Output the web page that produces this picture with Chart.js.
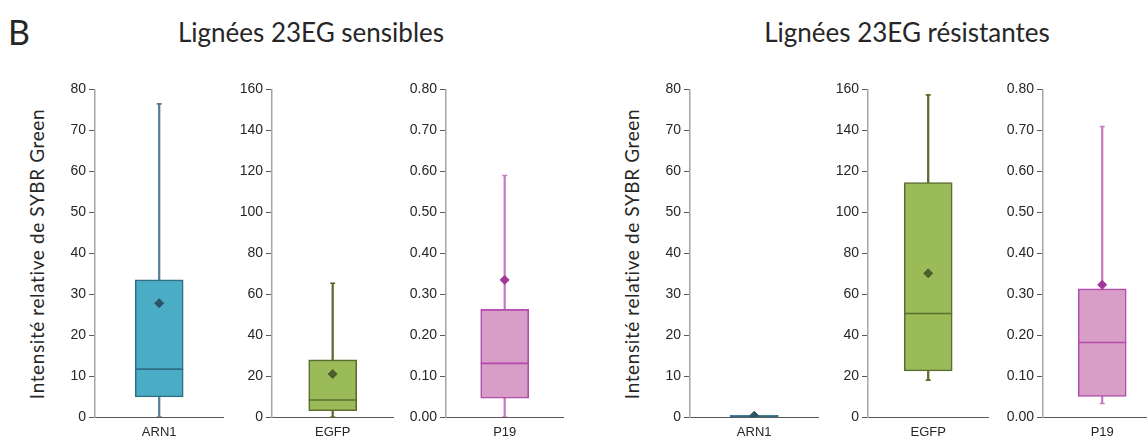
<!DOCTYPE html>
<html>
<head>
<meta charset="utf-8">
<script src="https://cdn.jsdelivr.net/npm/chart.js@4/dist/chart.umd.min.js"></script>
<style>
  html, body { margin: 0; padding: 0; background: #fff; }
  #wrap { position: relative; width: 1147px; height: 443px; overflow: hidden; background: #fff; }
  #wrap canvas { position: absolute; }
  .txt { position: absolute; color: #262626; font-family: Lato, "Open Sans", sans-serif; white-space: nowrap; }
  .title { font-size: 26px; line-height: 30px; width: 400px; text-align: center; top: 17px; }
  .ytitle { font-size: 19px; line-height: 24px; width: 340px; text-align: center; top: 242px; transform: rotate(-90deg); letter-spacing: 0.6px; }
</style>
</head>
<body>
<div id="wrap">
  <div class="txt" style="left:8px;top:10px;font-size:34px;line-height:44px;">B</div>
  <div class="txt title" style="left:111px;">Lignées 23EG sensibles</div>
  <div class="txt title" style="left:707px;">Lignées 23EG résistantes</div>
  <div class="txt ytitle" style="left:-133px;">Intensité relative de SYBR Green</div>
  <div class="txt ytitle" style="left:462px;">Intensité relative de SYBR Green</div>
</div>
<script>
const categories = ['ARN1', 'EGFP', 'P19'];

// Lignées sensibles: min, q1, median, q3, max, mean
const sensMin = [0, 0, 0];
const sensQ1 = [4.9, 3.1, 0.046];
const sensMedian = [11.7, 8.3, 0.131];
const sensQ3 = [33.5, 27.9, 0.263];
const sensMax = [76.5, 65.4, 0.590];
const sensMean = [27.8, 21.0, 0.335];

// Lignées résistantes
const resMin = [0.02, 18.0, 0.033];
const resQ1 = [0.05, 22.5, 0.050];
const resMedian = [0.15, 50.6, 0.182];
const resQ3 = [0.4, 114.6, 0.313];
const resMax = [0.5, 157.4, 0.710];
const resMean = [0.3, 70.2, 0.323];

// y axis per gene
const yMax = [80, 160, 0.8];
const yStep = [10, 20, 0.1];
const yDecimals = [0, 0, 2];

const colors = [
  { fill: '#4BACC6', stroke: '#2F6F86', whisker: '#567F93', mean: '#2C5466' },
  { fill: '#9BBB59', stroke: '#5B6E2E', whisker: '#5E6B2C', mean: '#4E5E2C' },
  { fill: '#D89EC8', stroke: '#B24BAA', whisker: '#C57CC0', mean: '#A3379C' }
];

// where each plot area should sit on the page
const AREA_TOP = 90, AREA_BOTTOM = 417;
const panels = [
  { axis: 95, right: 223, group: 's', i: 0 },
  { axis: 272, right: 393, group: 's', i: 1 },
  { axis: 446, right: 563, group: 's', i: 2 },
  { axis: 690, right: 818, group: 'r', i: 0 },
  { axis: 868, right: 988, group: 'r', i: 1 },
  { axis: 1043, right: 1161, group: 'r', i: 2 }
];

const Y_W = 50;
const wrap = document.getElementById('wrap');

function makeConfig(p) {
  const i = p.i;
  const s = p.group === 's'
    ? { min: sensMin, q1: sensQ1, med: sensMedian, q3: sensQ3, max: sensMax, mean: sensMean }
    : { min: resMin, q1: resQ1, med: resMedian, q3: resQ3, max: resMax, mean: resMean };
  const c = colors[i];
  const cat = categories[i];
  return {
    type: 'bar',
    data: {
      labels: [cat],
      datasets: [
        { // mean
          type: 'line', data: [s.mean[i]], showLine: false,
          pointStyle: 'rectRot', pointRadius: 4.5,
          backgroundColor: c.mean, borderColor: c.mean, borderWidth: 1, order: 0
        },
        { // median
          type: 'line', data: [s.med[i]], showLine: false,
          pointStyle: 'line', pointRadius: 24,
          borderColor: c.stroke, borderWidth: 1.6, order: 1
        },
        { // box
          type: 'bar', data: [[s.q1[i], s.q3[i]]],
          backgroundColor: c.fill, borderColor: c.stroke, borderWidth: 1.6,
          borderSkipped: false, barThickness: 48, grouped: false, order: 2
        },
        { // whisker caps
          type: 'line', data: [{ x: cat, y: s.max[i] }, { x: cat, y: s.min[i] }], showLine: false,
          pointStyle: 'line', pointRadius: 2.5,
          borderColor: c.whisker, borderWidth: 1.6, order: 3
        },
        { // whisker
          type: 'bar', data: [[s.min[i], s.max[i]]],
          backgroundColor: c.whisker, borderWidth: 0,
          barThickness: 1.6, grouped: false, order: 4
        }
      ]
    },
    options: {
      responsive: false,
      maintainAspectRatio: false,
      animation: false,
      layout: { padding: 0 },
      plugins: { legend: { display: false }, tooltip: { enabled: false } },
      scales: {
        x: {
          grid: { display: false },
          border: { color: '#595959', width: 1 },
          ticks: { color: '#262626', font: { family: 'Liberation Sans', size: 13 }, padding: 0 },
          afterFit: sc => { sc.height = 26; }
        },
        y: {
          min: 0, max: yMax[i],
          grid: { drawOnChartArea: false, tickLength: 6, color: '#595959' },
          border: { color: '#A6A6A6', width: 1.5 },
          ticks: {
            stepSize: yStep[i],
            color: '#262626',
            font: { family: 'Liberation Sans', size: 14 },
            padding: 3,
            callback: v => Number(v).toFixed(yDecimals[i])
          },
          afterFit: sc => { sc.width = Y_W; }
        }
      }
    }
  };
}

function build(p, left, top, w, h) {
  const canvas = document.createElement('canvas');
  canvas.width = w;
  canvas.height = h;
  canvas.style.left = left + 'px';
  canvas.style.top = top + 'px';
  canvas.style.width = w + 'px';
  canvas.style.height = h + 'px';
  wrap.appendChild(canvas);
  return { canvas, chart: new Chart(canvas, makeConfig(p)) };
}

panels.forEach(p => {
  // first pass, then move and resize the canvas so the plot area lands where it should
  let left = p.axis - Y_W, top = 80, w = Y_W + (p.right - p.axis), h = 363;
  const first = build(p, left, top, w, h);
  const ca = first.chart.chartArea;
  const newLeft = left + (p.axis - (left + ca.left));
  const newTop = top + (AREA_TOP - (top + ca.top));
  const newW = w + ((p.right - p.axis) - (ca.right - ca.left));
  const newH = h + ((AREA_BOTTOM - AREA_TOP) - (ca.bottom - ca.top));
  first.chart.destroy();
  first.canvas.remove();
  build(p, Math.round(newLeft), Math.round(newTop), Math.round(newW), Math.round(newH));
});
</script>
</body>
</html>
